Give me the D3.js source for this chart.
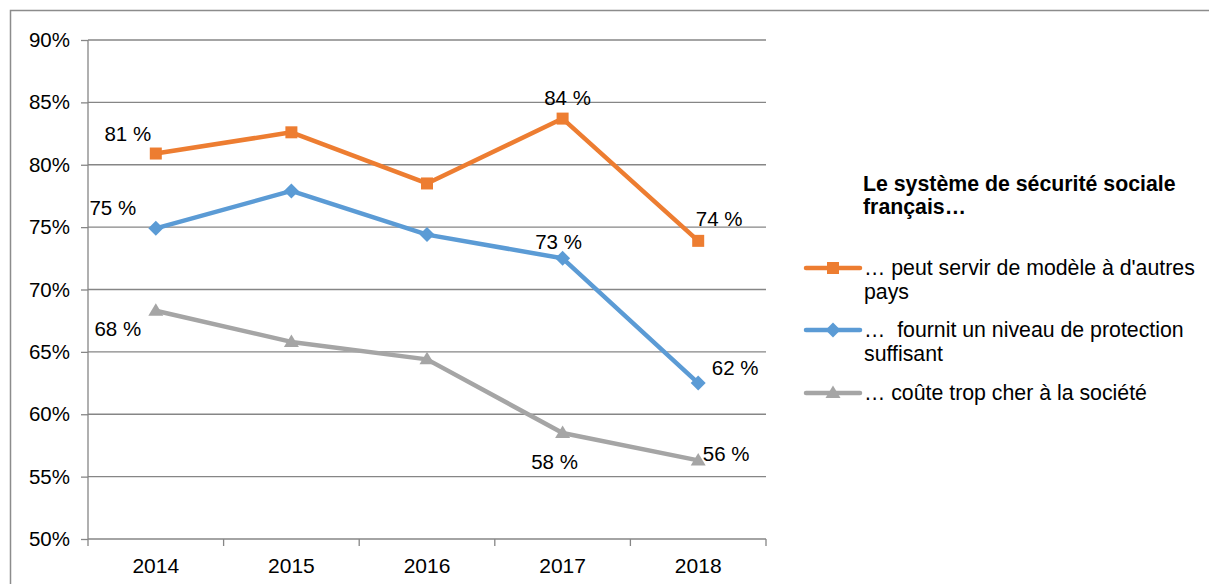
<!DOCTYPE html>
<html>
<head>
<meta charset="utf-8">
<script src="https://cdn.jsdelivr.net/npm/d3@7"></script>
<style>
  body { margin: 0; background: #fff; }
  svg { font-family: "Liberation Sans", Arial, sans-serif; }
</style>
</head>
<body>
<div id="chart"></div>
<script>
// chart size
const width = 1209;
const height = 584;
const margin = {left: 88, right: 443, top: 40, bottom: 45};
const fontSize = "20.5px";
const legendFont = "21.3px";

// data
const years = ["2014", "2015", "2016", "2017", "2018"];
const modele = [80.9, 82.6, 78.5, 83.7, 73.9];
const protection = [74.9, 77.9, 74.4, 72.5, 62.5];
const tropCher = [68.3, 65.8, 64.4, 58.5, 56.3];
const yTicks = [50, 55, 60, 65, 70, 75, 80, 85, 90];
const legendTitle = ["Le système de sécurité sociale", "français…"];
const seriesNames = [
  ["… peut servir de modèle à d'autres", "pays"],
  ["…  fournit un niveau de protection", "suffisant"],
  ["… coûte trop cher à la société"]
];
const pointLabels = [
  ["81 %", "", "", "84 %", "74 %"],
  ["75 %", "", "", "73 %", "62 %"],
  ["68 %", "", "", "58 %", "56 %"]
];

const series = [
  {values: modele, color: "#ED7D31", marker: "square"},
  {values: protection, color: "#5B9BD5", marker: "diamond"},
  {values: tropCher, color: "#A5A5A5", marker: "triangle"}
];

// label offsets (dx, dy) relative to the point
const labelOffsets = [
  [[-28, -13], null, null, [5, -14], [21, -15]],
  [[-43, -13], null, null, [-4, -9], [37, -8]],
  [[-38, 25], null, null, [-8, 36], [28, 1]]
];

const svg = d3.select("#chart")
  .append("svg")
  .attr("width", width)
  .attr("height", height);

// outer frame
svg.append("rect")
  .attr("x", 10.5).attr("y", 10.5)
  .attr("width", 1300).attr("height", 700)
  .attr("fill", "none")
  .attr("stroke", "#8c8c8c")
  .attr("stroke-width", 1.5);

const x = d3.scaleBand()
  .domain(years)
  .range([margin.left, width - margin.right]);

const y = d3.scaleLinear()
  .domain([50, 90])
  .range([height - margin.bottom, margin.top]);

// gridlines
svg.append("g")
  .selectAll("line")
  .data(yTicks.slice(1))
  .enter()
  .append("line")
    .attr("x1", margin.left).attr("x2", width - margin.right)
    .attr("y1", d => y(d)).attr("y2", d => y(d))
    .attr("stroke", "#868686")
    .attr("stroke-width", 1.3);

// y axis
const yAxis = svg.append("g")
  .attr("transform", `translate(${margin.left},0)`)
  .call(d3.axisLeft(y).tickValues(yTicks).tickFormat(d => d + "%").tickSize(7).tickPadding(11));
yAxis.selectAll("text").attr("font-size", fontSize).attr("fill", "#000").attr("font-family", "Liberation Sans, Arial, sans-serif");
yAxis.selectAll("line").attr("stroke", "#868686").attr("stroke-width", 1.3);
yAxis.select(".domain").attr("stroke", "#868686").attr("stroke-width", 1.3).attr("d", `M0,${y(90)}V${y(50)}`);

// x axis
const xAxis = svg.append("g")
  .attr("transform", `translate(0,${y(50)})`)
  .call(d3.axisBottom(x).tickSize(0).tickPadding(19));
xAxis.selectAll("text").attr("font-size", "21px").attr("fill", "#000").attr("font-family", "Liberation Sans, Arial, sans-serif");
xAxis.select(".domain").attr("stroke", "#868686").attr("stroke-width", 1.3).attr("d", `M${margin.left},0H${width - margin.right}`);
// tick marks between categories
xAxis.selectAll(".sep")
  .data(d3.range(years.length + 1))
  .enter()
  .append("line")
    .attr("x1", i => margin.left + i * x.step())
    .attr("x2", i => margin.left + i * x.step())
    .attr("y1", 0).attr("y2", 7)
    .attr("stroke", "#868686").attr("stroke-width", 1.3);

const cx = i => x(years[i]) + x.bandwidth() / 2;

const line = d3.line()
  .x((d, i) => cx(i))
  .y(d => y(d));

function drawMarker(g, type, px, py, color) {
  if (type === "square") {
    g.append("rect").attr("x", px - 6).attr("y", py - 6)
      .attr("width", 12).attr("height", 12).attr("fill", color);
  } else if (type === "diamond") {
    g.append("path").attr("d", `M${px},${py - 7.5}L${px + 7.5},${py}L${px},${py + 7.5}L${px - 7.5},${py}Z`)
      .attr("fill", color);
  } else {
    g.append("path").attr("d", `M${px},${py - 7.5}L${px + 7.5},${py + 5}L${px - 7.5},${py + 5}Z`)
      .attr("fill", color);
  }
}

series.forEach((s, k) => {
  const g = svg.append("g");
  g.append("path")
    .datum(s.values)
    .attr("d", line)
    .attr("fill", "none")
    .attr("stroke", s.color)
    .attr("stroke-width", 4.5)
    .attr("stroke-linejoin", "round");
  s.values.forEach((v, i) => drawMarker(g, s.marker, cx(i), y(v), s.color));

  // data labels
  s.values.forEach((v, i) => {
    if (!pointLabels[k][i]) return;
    const off = labelOffsets[k][i];
    g.append("text")
      .attr("x", cx(i) + off[0])
      .attr("y", y(v) + off[1])
      .attr("text-anchor", "middle")
      .attr("font-size", fontSize)
      .attr("fill", "#000")
      .text(pointLabels[k][i]);
  });
});

// legend
const legend = svg.append("g");
legend.selectAll(".title")
  .data(legendTitle)
  .enter()
  .append("text")
    .attr("x", 863)
    .attr("y", (d, i) => 191 + i * 23)
    .attr("font-size", legendFont)
    .attr("font-weight", "bold")
    .attr("fill", "#000")
    .text(d => d);

const legendY = [268, 330, 393];
series.forEach((s, k) => {
  const ly = legendY[k];
  legend.append("line")
    .attr("x1", 806).attr("x2", 860)
    .attr("y1", ly).attr("y2", ly)
    .attr("stroke", s.color)
    .attr("stroke-width", 4.5)
    .attr("stroke-linecap", "round");
  drawMarker(legend, s.marker, 833, ly, s.color);
  seriesNames[k].forEach((t, j) => {
    legend.append("text")
      .attr("x", 864)
      .attr("y", ly + 7 + j * 24)
      .attr("font-size", legendFont)
      .attr("fill", "#000")
      .attr("xml:space", "preserve")
      .style("white-space", "pre")
      .text(t);
  });
});
</script>
</body>
</html>
